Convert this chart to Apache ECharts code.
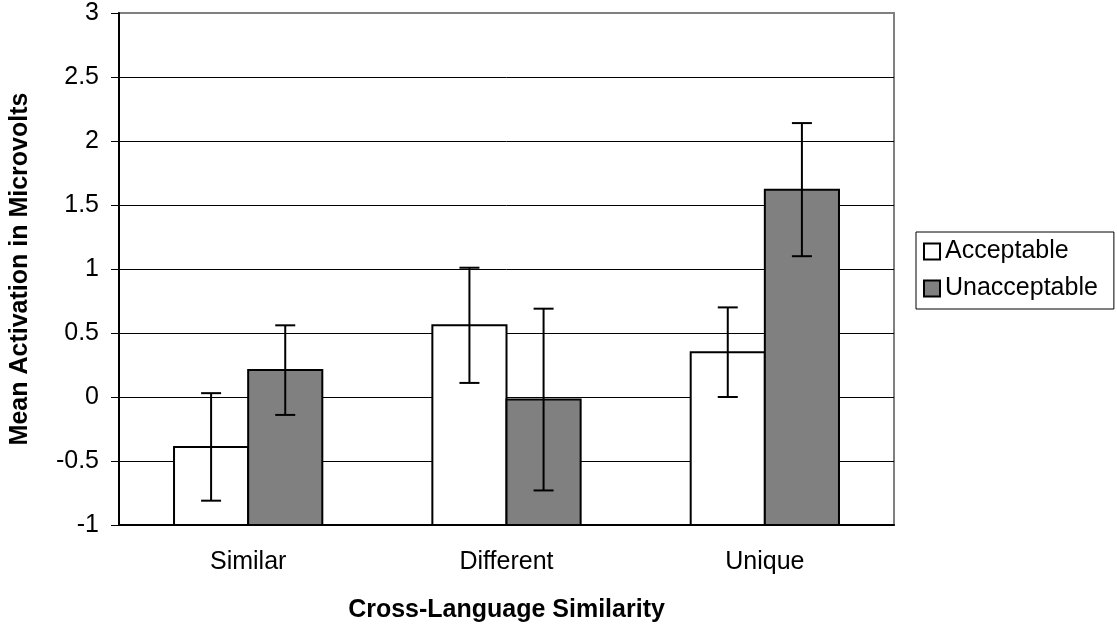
<!DOCTYPE html>
<html>
<head>
<meta charset="utf-8">
<script src="https://cdn.jsdelivr.net/npm/echarts@6/dist/echarts.min.js"></script>
<style>
html,body{margin:0;padding:0;background:#fff;}
#chart{width:1117px;height:628px;}
</style>
</head>
<body>
<div id="chart"></div>
<script>
const categories = ['Similar', 'Different', 'Unique'];
const acceptable = [-0.39, 0.56, 0.35];
const unacceptable = [0.21, -0.02, 1.62];
const acceptableErr = [0.42, 0.45, 0.35];
const unacceptableErr = [0.35, 0.71, 0.52];
const yTicks = { min: -1, max: 3, interval: 0.5 };

const FONT = '"Liberation Sans", Arial, sans-serif';
const GROUP_FRAC = 0.574; // fraction of category band taken by the two bars

function makeRender(side) {
  return function (params, api) {
    const ci = api.value(0), v = api.value(1), e = api.value(2);
    const band = api.size([1, 0])[0];
    const bw = band * GROUP_FRAC / 2;
    const center = api.coord([ci, 0])[0];
    const x0 = center + (side === 0 ? -bw : 0);
    const yTop = api.coord([ci, v])[1];
    const yBase = api.coord([ci, yTicks.min])[1];
    const cx = x0 + bw / 2;
    const yHi = api.coord([ci, v + e])[1];
    const yLo = api.coord([ci, v - e])[1];
    const cap = 10;
    const lineStyle = { stroke: '#000', lineWidth: 2 };
    return {
      type: 'group',
      children: [
        { type: 'rect', shape: { x: x0, y: Math.min(yTop, yBase), width: bw, height: Math.abs(yBase - yTop) },
          style: { fill: api.visual('color'), stroke: '#000', lineWidth: 2 } },
        { type: 'line', shape: { x1: cx, y1: yHi, x2: cx, y2: yLo }, style: lineStyle },
        { type: 'line', shape: { x1: cx - cap, y1: yHi, x2: cx + cap, y2: yHi }, style: lineStyle },
        { type: 'line', shape: { x1: cx - cap, y1: yLo, x2: cx + cap, y2: yLo }, style: lineStyle }
      ]
    };
  };
}

const chart = echarts.init(document.getElementById('chart'), null, { renderer: 'canvas' });
chart.setOption({
  animation: false,
  backgroundColor: '#fff',
  textStyle: { fontFamily: FONT, color: '#000' },
  grid: { left: 110, right: 223, top: 13, bottom: 101, show: true, borderColor: '#808080', borderWidth: 2, backgroundColor: '#fff' },
  legend: {
    orient: 'vertical', left: 916, top: 232,
    padding: [7, 16, 8, 7],
    itemWidth: 16, itemHeight: 16, itemGap: 12,
    icon: 'rect',
    borderColor: '#000', borderWidth: 1,
    itemStyle: { borderColor: '#000', borderWidth: 2 },
    textStyle: { fontFamily: FONT, fontSize: 25, color: '#000' },
    data: ['Acceptable', 'Unacceptable']
  },
  xAxis: {
    type: 'category',
    data: categories,
    axisLine: { onZero: false, lineStyle: { color: '#000', width: 2 } },
    axisTick: { show: false },
    axisLabel: { fontFamily: FONT, fontSize: 25, color: '#000', margin: 25 },
    name: 'Cross-Language Similarity',
    nameLocation: 'middle',
    nameGap: 73,
    nameTextStyle: { fontFamily: FONT, fontSize: 25, fontWeight: 'bold', color: '#000' }
  },
  yAxis: {
    type: 'value',
    min: yTicks.min, max: yTicks.max, interval: yTicks.interval,
    axisLine: { show: true, lineStyle: { color: '#000', width: 2 } },
    axisTick: { show: true, length: 8, lineStyle: { color: '#000', width: 1 } },
    axisLabel: { fontFamily: FONT, fontSize: 25, color: '#000', margin: 20 },
    splitLine: { show: true, showMaxLine: false, lineStyle: { color: '#000', width: 1 } },
    name: 'Mean Activation in Microvolts',
    nameLocation: 'middle',
    nameGap: 86,
    nameTextStyle: { fontFamily: FONT, fontSize: 25, fontWeight: 'bold', color: '#000' }
  },
  series: [
    {
      name: 'Acceptable', type: 'custom',
      renderItem: makeRender(0),
      itemStyle: { color: '#ffffff', borderColor: '#000', borderWidth: 2 },
      encode: { x: 0, y: 1 },
      data: categories.map((c, i) => [i, acceptable[i], acceptableErr[i]])
    },
    {
      name: 'Unacceptable', type: 'custom',
      renderItem: makeRender(1),
      itemStyle: { color: '#808080', borderColor: '#000', borderWidth: 2 },
      encode: { x: 0, y: 1 },
      data: categories.map((c, i) => [i, unacceptable[i], unacceptableErr[i]])
    }
  ]
});
</script>
</body>
</html>
